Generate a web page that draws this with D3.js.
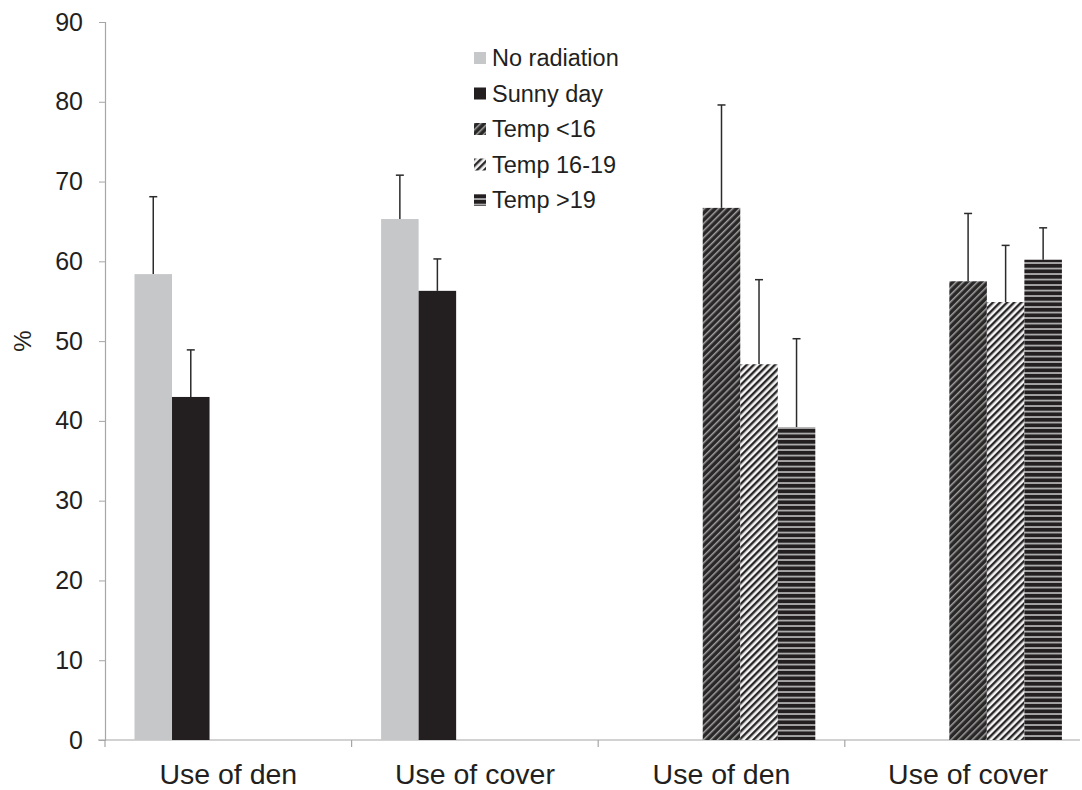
<!DOCTYPE html>
<html lang="en">
  <head>
    <meta charset="UTF-8" />
    <title>Use of den / cover</title>
    <script src="https://d3js.org/d3.v7.min.js"></script>
    <style>
      body { margin: 0; background: #fff; }
      text { font-family: "Liberation Sans", Arial, sans-serif; fill: #231f20; }
    </style>
  </head>
  <body>
    <svg width="1082" height="790"></svg>

    <script>
      // data
      const categories = ["Use of den", "Use of cover", "Use of den ", "Use of cover "];
      const categoryLabels = ["Use of den", "Use of cover", "Use of den", "Use of cover"];
      const series = ["No radiation", "Sunny day", "Temp <16", "Temp 16-19", "Temp >19"];
      // mean values per category (null = no bar)
      const noRadiation = [58.4, 65.3, null, null];
      const sunnyDay = [43.0, 56.3, null, null];
      const tempLow = [null, null, 66.7, 57.5];
      const tempMid = [null, null, 47.1, 54.9];
      const tempHigh = [null, null, 39.2, 60.2];
      // top of error bars
      const noRadiationErr = [68.1, 70.8, null, null];
      const sunnyDayErr = [48.9, 60.3, null, null];
      const tempLowErr = [null, null, 79.6, 66.0];
      const tempMidErr = [null, null, 57.7, 62.0];
      const tempHighErr = [null, null, 50.3, 64.2];
      const yTicks = [0, 10, 20, 30, 40, 50, 60, 70, 80, 90];

      const values = [noRadiation, sunnyDay, tempLow, tempMid, tempHigh];
      const errors = [noRadiationErr, sunnyDayErr, tempLowErr, tempMidErr, tempHighErr];

      const svg = d3.select("svg");
      const margin = { left: 105, top: 22 };
      const plotH = 740 - margin.top;
      const plotW = 4 * 246.6;

      const x0 = d3.scaleBand().domain(categories).range([0, plotW]);
      const x1 = d3.scaleBand().domain(series).range([29.5, x0.bandwidth() - 29.5]);
      const y = d3.scaleLinear().domain([0, 90]).range([plotH, 0]);

      const defs = svg.append("defs");

      // Temp <16 : dark diagonal
      const p1 = defs.append("pattern").attr("id", "pLow").attr("patternUnits", "userSpaceOnUse")
        .attr("width", 5).attr("height", 5).attr("patternTransform", "rotate(45)");
      p1.append("rect").attr("width", 5).attr("height", 5).attr("fill", "#2a2727");
      p1.append("rect").attr("x", 0).attr("width", 1.5).attr("height", 5).attr("fill", "#a0a0a0");

      // Temp 16-19 : light diagonal
      const p2 = defs.append("pattern").attr("id", "pMid").attr("patternUnits", "userSpaceOnUse")
        .attr("width", 5).attr("height", 5).attr("patternTransform", "rotate(45)");
      p2.append("rect").attr("width", 5).attr("height", 5).attr("fill", "#f4f4f4");
      p2.append("rect").attr("x", 0).attr("width", 2.4).attr("height", 5).attr("fill", "#2a2727");

      // Temp >19 : horizontal
      const p3 = defs.append("pattern").attr("id", "pHigh").attr("patternUnits", "userSpaceOnUse")
        .attr("width", 10).attr("height", 5.5);
      p3.append("rect").attr("width", 10).attr("height", 5.5).attr("fill", "#231f20");
      p3.append("rect").attr("y", 3.8).attr("width", 10).attr("height", 1.5).attr("fill", "#c8c8c8");

      const fills = ["#c6c7c9", "#231f20", "url(#pLow)", "url(#pMid)", "url(#pHigh)"];

      const g = svg.append("g").attr("transform", `translate(${margin.left},${margin.top})`);

      // y axis
      const yAxis = g.append("g").call(d3.axisLeft(y).tickValues(yTicks).tickSize(6).tickPadding(16));
      yAxis.select(".domain").attr("stroke", "#a6a6a6").attr("stroke-width", 1.2);
      yAxis.selectAll(".tick line").attr("stroke", "#a6a6a6");
      yAxis.selectAll("text").style("font-size", "25px").attr("fill", "#231f20")
        .style("font-family", "'Liberation Sans', Arial, sans-serif");

      // x axis
      g.append("line").attr("x1", -7).attr("x2", 975).attr("y1", plotH).attr("y2", plotH)
        .attr("stroke", "#a6a6a6").attr("stroke-width", 1.2);
      g.selectAll(".xtick").data(categories).join("line").attr("class", "xtick")
        .attr("x1", (d) => x0(d)).attr("x2", (d) => x0(d))
        .attr("y1", plotH).attr("y2", plotH + 7)
        .attr("stroke", "#a6a6a6").attr("stroke-width", 1.2);
      g.selectAll(".xlab").data(categories).join("text").attr("class", "xlab")
        .attr("x", (d) => x0(d) + x0.bandwidth() / 2).attr("y", plotH + 44)
        .attr("text-anchor", "middle").style("font-size", "28.5px")
        .text((d, i) => categoryLabels[i]);

      // y label
      svg.append("text").attr("transform", "translate(31,341) rotate(-90)")
        .attr("text-anchor", "middle").style("font-size", "24px").text("%");

      // bars
      const rows = [];
      categories.forEach((c, ci) => {
        series.forEach((s, si) => {
          if (values[si][ci] != null) rows.push({ c, s, si, v: values[si][ci], e: errors[si][ci] });
        });
      });

      // error bars
      const cx = (d) => x0(d.c) + x1(d.s) + x1.bandwidth() / 2;
      const eb = g.selectAll(".err").data(rows).join("g").attr("class", "err");
      eb.append("line")
        .attr("x1", cx).attr("x2", cx)
        .attr("y1", (d) => y(d.v)).attr("y2", (d) => y(d.e))
        .attr("stroke", "#2b2b2b").attr("stroke-width", 1.5);
      eb.append("line")
        .attr("x1", (d) => cx(d) - 4).attr("x2", (d) => cx(d) + 4)
        .attr("y1", (d) => y(d.e)).attr("y2", (d) => y(d.e))
        .attr("stroke", "#2b2b2b").attr("stroke-width", 1.5);

      g.selectAll(".bar").data(rows).join("rect").attr("class", "bar")
        .attr("x", (d) => x0(d.c) + x1(d.s))
        .attr("width", x1.bandwidth())
        .attr("y", (d) => y(d.v))
        .attr("height", (d) => plotH - y(d.v))
        .attr("fill", (d) => fills[d.si]);

      // legend
      const lg = svg.append("g").attr("transform", "translate(474,58)");
      const li = lg.selectAll("g").data(series).join("g")
        .attr("transform", (d, i) => `translate(0,${i * 35.5})`);
      li.append("rect").attr("x", 0).attr("y", -6).attr("width", 12).attr("height", 12)
        .attr("fill", (d, i) => fills[i]);
      li.append("text").attr("x", 18).attr("y", 0).attr("dy", "0.36em")
        .style("font-size", "23.5px").text((d) => d);
    </script>
  </body>
</html>
